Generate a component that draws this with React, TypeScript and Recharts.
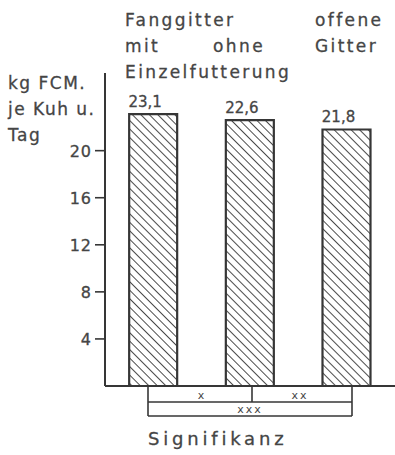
import React from 'react';
import { BarChart, Bar, XAxis, YAxis, LabelList, ReferenceLine } from 'recharts';

// Milchleistung je Kuh und Tag nach Fütterungssystem
const groups = ['mit Einzelfutterung', 'ohne Einzelfutterung', 'offene Gitter'];
const milkYield = [23.1, 22.6, 21.8];
const yTicks = [4, 8, 12, 16, 20];

const data = groups.map((group, i) => ({ group, kg: milkYield[i] }));

const INK = '#363636';
const TEXT = '#454545';
const FONT = '"DejaVu Sans", sans-serif';
const TICK_SIZE = 10;
const TICK_MARGIN = 3;

const fmt = (v: number) => v.toFixed(1).replace('.', ',');

const ValueLabel = (props: any) => {
    const { x, y, width, value } = props;
    return (
        <text
            x={Number(x) + Number(width) / 2 - 8}
            y={Number(y) - 7}
            textAnchor="middle"
            fontSize={15}
            fill={TEXT}
            stroke={TEXT}
            strokeWidth={0.3}
            fontFamily={FONT}
        >
            {fmt(Number(value))}
        </text>
    );
};

// Skalenstrich und Zahl zusammen zeichnen
const YTick = (props: any) => {
    const { x, y, payload } = props;
    return (
        <g>
            <line
                x1={x + TICK_MARGIN}
                y1={y}
                x2={x + TICK_MARGIN + TICK_SIZE}
                y2={y}
                stroke={INK}
                strokeWidth={1.6}
            />
            <text
                x={x}
                y={y}
                dy={6}
                textAnchor="end"
                fontSize={16}
                fontFamily={FONT}
                fill={TEXT}
                stroke={TEXT}
                strokeWidth={0.3}
                letterSpacing={1}
            >
                {payload.value}
            </text>
        </g>
    );
};

export default function App() {
    const textStyle = {
        fontFamily: FONT,
        fill: TEXT,
        stroke: TEXT,
        strokeWidth: 0.3,
        fontSize: 17,
        letterSpacing: 2.4,
    } as const;

    return (
        <div style={{ position: 'absolute', left: 0, top: 0, width: 395, height: 455, background: '#fff' }}>
            <BarChart
                width={395}
                height={455}
                data={data}
                margin={{ top: 73, right: 0, left: 0, bottom: 68 }}
                barCategoryGap="25%"
            >
                <defs>
                    <pattern
                        id="hatch"
                        patternUnits="userSpaceOnUse"
                        width={6}
                        height={6}
                        patternTransform="rotate(-45)"
                    >
                        <rect width={6} height={6} fill="#fff" />
                        <line x1={0} y1={0} x2={0} y2={6} stroke={INK} strokeWidth={1.8} />
                    </pattern>
                </defs>
                <XAxis dataKey="group" height={1} tick={false} tickLine={false} axisLine={false} />
                <YAxis
                    width={105}
                    domain={[0, 26.6]}
                    ticks={yTicks}
                    interval={0}
                    tickSize={TICK_SIZE}
                    tickMargin={TICK_MARGIN}
                    axisLine={{ stroke: INK, strokeWidth: 2 }}
                    tickLine={false}
                    tick={YTick}
                />
                <Bar
                    dataKey="kg"
                    fill="url(#hatch)"
                    stroke={INK}
                    strokeWidth={2.2}
                    isAnimationActive={false}
                >
                    <LabelList dataKey="kg" content={ValueLabel} />
                </Bar>
                <ReferenceLine y={0} stroke={INK} strokeWidth={2} ifOverflow="visible" />
            </BarChart>

            <svg
                width={395}
                height={455}
                style={{ position: 'absolute', left: 0, top: 0, pointerEvents: 'none' }}
            >
                {/* Gruppenköpfe */}
                <text x={125} y={26} {...textStyle}>Fanggitter</text>
                <text x={315} y={26} {...textStyle}>offene</text>
                <text x={125} y={52} {...textStyle}>mit</text>
                <text x={213} y={52} {...textStyle}>ohne</text>
                <text x={315} y={52} {...textStyle}>Gitter</text>
                <text x={125} y={78} {...textStyle}>Einzelfutterung</text>

                {/* Achsenbeschriftung */}
                <text x={8} y={89} {...textStyle} letterSpacing={1.5}>kg FCM.</text>
                <text x={8} y={115} {...textStyle} letterSpacing={1.5}>je Kuh u.</text>
                <text x={8} y={141} {...textStyle} letterSpacing={1.5}>Tag</text>

                {/* Signifikanztabelle */}
                <g stroke={INK} strokeWidth={1.6} fill="none">
                    <line x1={148} y1={386} x2={148} y2={416} />
                    <line x1={352} y1={386} x2={352} y2={416} />
                    <line x1={252} y1={386} x2={252} y2={402} />
                    <line x1={148} y1={402} x2={352} y2={402} />
                    <line x1={148} y1={416} x2={352} y2={416} />
                </g>
                <g fontFamily={FONT} fontSize={11} fill={TEXT} textAnchor="middle" letterSpacing={2}>
                    <text x={202} y={399}>x</text>
                    <text x={300} y={399}>xx</text>
                    <text x={250} y={413}>xxx</text>
                </g>
                <text x={148} y={445} {...textStyle} fontSize={18} letterSpacing={3.8}>Signifikanz</text>
            </svg>
        </div>
    );
}
